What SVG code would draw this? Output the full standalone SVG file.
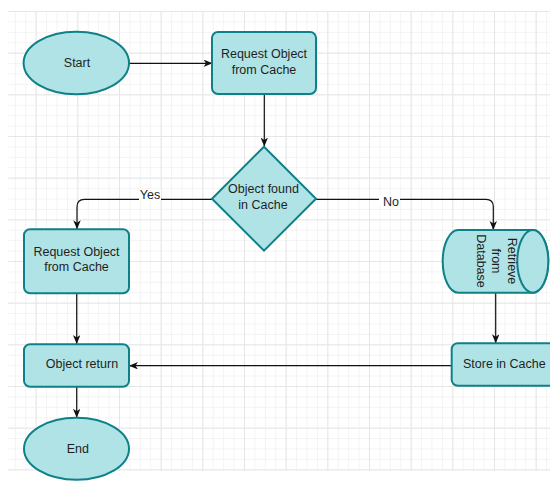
<svg xmlns="http://www.w3.org/2000/svg" width="550" height="481" viewBox="0 0 550 481">
  <defs>
    <pattern id="minor" patternUnits="userSpaceOnUse" x="35.667" y="11" width="10.4167" height="10.4167">
      <path d="M0.5,0 V10.4167 M0,0.5 H10.4167" stroke="#f3f3f3" stroke-width="1" fill="none"/>
    </pattern>
    <pattern id="major" patternUnits="userSpaceOnUse" x="35.667" y="11" width="41.667" height="41.667">
      <path d="M0.5,0 V41.667 M0,0.5 H41.667" stroke="#e6e6e6" stroke-width="1" fill="none"/>
    </pattern>
    <marker id="arrow" markerUnits="userSpaceOnUse" markerWidth="10" markerHeight="8" refX="9" refY="3.75" orient="auto">
      <path d="M0,0 L9,3.75 L0,7.5 L2.5,3.75 Z" fill="#111"/>
    </marker>
    <style>
      .shape { fill: #b0e3e6; stroke: #0e8088; stroke-width: 2; }
      .lbl { font-family: "Liberation Sans", Arial, sans-serif; font-size: 12.5px; fill: #1f1f1f; text-anchor: middle; }
      .edge { fill: none; stroke: #111; stroke-width: 1.2; }
      .elbl { font-family: "Liberation Sans", Arial, sans-serif; font-size: 12.5px; fill: #1f1f1f; text-anchor: middle; }
    </style>
  </defs>

  <rect x="0" y="0" width="550" height="481" fill="#ffffff"/>
  <g id="grid">
    <rect x="8" y="11" width="542" height="460" fill="url(#minor)"/>
    <rect x="8" y="11" width="542" height="460" fill="url(#major)"/>
  </g>

  <g id="connectors">
    <path class="edge" d="M129,63.3 H212.5" marker-end="url(#arrow)"/>
    <path class="edge" d="M264.3,94 V146.5" marker-end="url(#arrow)"/>
    <path class="edge" d="M212,199.3 H84.5 Q77,199.3 77,206.8 V229.3" marker-end="url(#arrow)"/>
    <rect x="139" y="189" width="22" height="11" fill="#ffffff"/>
    <text class="elbl" x="150" y="198.5">Yes</text>
    <path class="edge" d="M316,199.3 H486 Q493.3,199.3 493.3,206.6 V230" marker-end="url(#arrow)"/>
    <rect x="379" y="195" width="21" height="11" fill="#ffffff"/>
    <text class="elbl" x="391" y="205.5">No</text>
    <path class="edge" d="M76.7,293.3 V344" marker-end="url(#arrow)"/>
    <path class="edge" d="M76.7,386.7 V417.7" marker-end="url(#arrow)"/>
    <path class="edge" d="M495.7,292.7 V343.3" marker-end="url(#arrow)"/>
    <path class="edge" d="M451.7,365.7 H129" marker-end="url(#arrow)"/>
  </g>

  <g id="start">
    <ellipse class="shape" cx="76.3" cy="63" rx="52.7" ry="31.2"/>
    <text class="lbl" x="77" y="66.5">Start</text>
  </g>

  <g id="request-top">
    <rect class="shape" x="212" y="32" width="104" height="62" rx="6" ry="6"/>
    <text class="lbl" x="264" y="58">Request Object</text>
    <text class="lbl" x="264" y="73.5">from Cache</text>
  </g>

  <g id="decision">
    <polygon class="shape" points="264,146.7 316,198.7 264,250.7 212,198.7"/>
    <text class="lbl" x="263.5" y="193">Object found</text>
    <text class="lbl" x="263" y="208.5">in Cache</text>
  </g>

  <g id="request-left">
    <rect class="shape" x="24" y="229.3" width="105" height="64" rx="6" ry="6"/>
    <text class="lbl" x="76.5" y="255.5">Request Object</text>
    <text class="lbl" x="76.5" y="271">from Cache</text>
  </g>

  <g id="database">
    <path class="shape" d="M458.2,230 H532.8 A15.5,31.35 0 0 1 532.8,292.7 H458.2 A15.5,31.35 0 0 1 458.2,230 Z"/>
    <ellipse class="shape" cx="532.8" cy="261.35" rx="15.5" ry="31.35"/>
    <g transform="translate(495.5,261) rotate(90)">
      <text class="lbl" x="0" y="-12">Retrieve</text>
      <text class="lbl" x="0" y="3.5">from</text>
      <text class="lbl" x="0" y="19">Database</text>
    </g>
  </g>

  <g id="store">
    <rect class="shape" x="451.7" y="343.3" width="104.5" height="42.4" rx="6" ry="6"/>
    <text class="lbl" x="504.3" y="368">Store in Cache</text>
  </g>

  <g id="object-return">
    <rect class="shape" x="24" y="344.3" width="105" height="42.4" rx="6" ry="6"/>
    <text class="lbl" x="82" y="367.5">Object return</text>
  </g>

  <g id="end">
    <ellipse class="shape" cx="76.5" cy="448.7" rx="52.5" ry="31"/>
    <text class="lbl" x="77.8" y="453">End</text>
  </g>
</svg>
